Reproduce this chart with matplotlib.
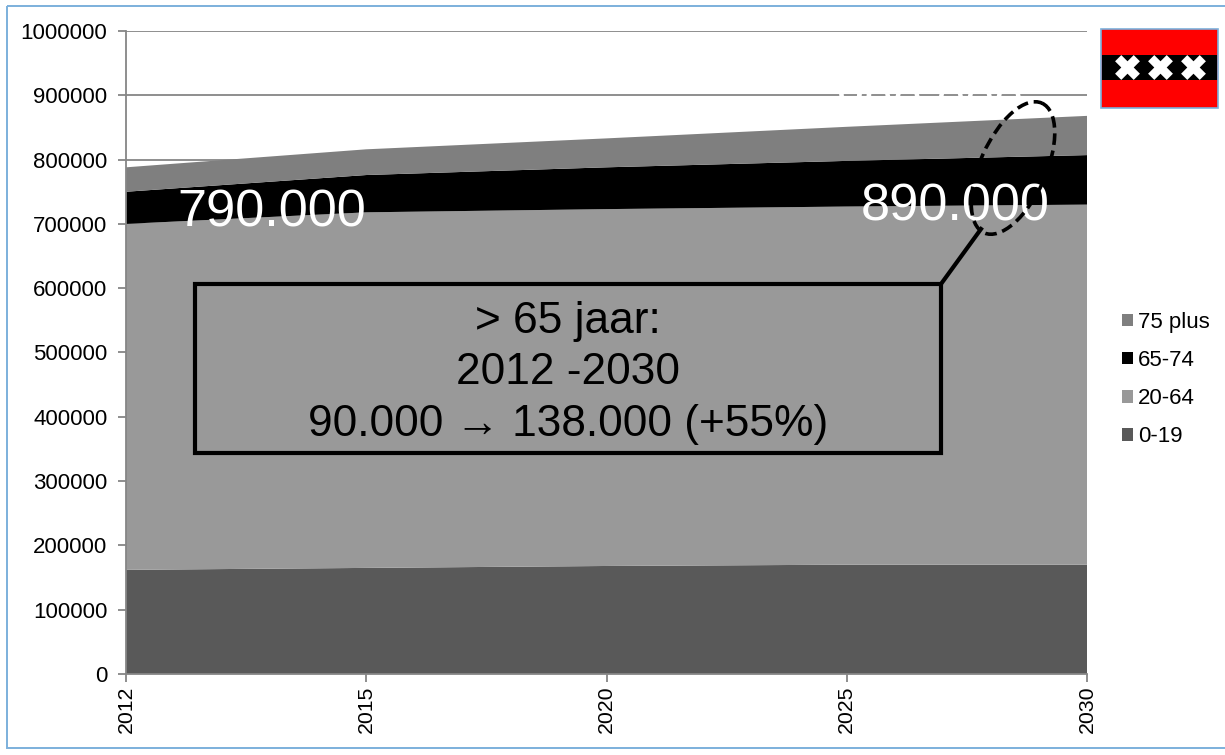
import numpy as np
import matplotlib
matplotlib.use('Agg')
from matplotlib import pyplot as plt
from matplotlib.patches import Rectangle, Ellipse, Patch
from matplotlib.transforms import ScaledTranslation

W, H = 1225, 755

years = ['2012', '2015', '2020', '2025', '2030']
age_0_19 = [162000, 165000, 168000, 170000, 170000]
age_20_64 = [538000, 553000, 555000, 557000, 560000]
age_65_74 = [50000, 58000, 65000, 71000, 77000]
age_75_plus = [38000, 40000, 45000, 53000, 61000]
labels = ['0-19', '20-64', '65-74', '75 plus']
colors = ['#595959', '#999999', '#000000', '#7f7f7f']
yticks = list(range(0, 1000001, 100000))

plt.rcParams['font.family'] = ['Liberation Sans', 'DejaVu Sans']

fig = plt.figure(figsize=(W / 100, H / 100), dpi=100)

# chart axes, placed in pixels
l, r, t, b = 126, 1087, 31, 674
ax = fig.add_axes([l / W, 1 - b / H, (r - l) / W, (b - t) / H])
x = np.arange(len(years))
ax.stackplot(x, age_0_19, age_20_64, age_65_74, age_75_plus,
             colors=colors, linewidth=0, zorder=3)
ax.set_xlim(0, 4)
ax.set_ylim(0, 1000000)
ax.set_xticks(x)
ax.set_xticklabels(years, rotation=90, fontsize=15.3)
# rotated labels sit a bit left of the tick otherwise
for lab in ax.get_xticklabels():
    lab.set_transform(lab.get_transform() + ScaledTranslation(2 / 100, 0, fig.dpi_scale_trans))
ax.set_yticks(yticks)
ax.set_yticklabels([str(v) for v in yticks], fontsize=16)
ax.grid(axis='y', color='#868686', lw=1.3)
ax.set_axisbelow(True)
ax.tick_params(colors='#868686', labelcolor='black', length=5.5, width=1.3)
ax.tick_params(axis='y', pad=8)
ax.tick_params(axis='x', pad=3)
for s in ['top', 'right']:
    ax.spines[s].set_visible(False)
for s in ['left', 'bottom']:
    ax.spines[s].set_color('#868686')
    ax.spines[s].set_linewidth(1.3)
    ax.spines[s].set_zorder(5)

# white text behind the areas, only shows where it cuts the 900000 gridline
ax.text(930 / W, 1 - 108 / H, '890.000', color='white', fontsize=37.5,
        ha='center', va='center', zorder=2, transform=fig.transFigure)

# overlay in image pixels for the annotations
ov = fig.add_axes([0, 0, 1, 1], facecolor='none')
ov.set_xlim(0, W)
ov.set_ylim(H, 0)
ov.axis('off')

ov.add_patch(Rectangle((7, 6), W, 742, fill=False, ec='#7cb0dc', lw=1.4))

ov.text(272, 213, '790.000', color='white', fontsize=37.7, ha='center', va='center', zorder=1)
ov.text(955, 207, '890.000', color='white', fontsize=37.7, ha='center', va='center', zorder=1)

ov.add_patch(Rectangle((195, 284), 746, 169, fill=False, ec='black', lw=3, zorder=4))
ov.plot([941, 981], [284, 229], color='black', lw=3, zorder=4)
ov.add_patch(Ellipse((1013, 168), 66, 142, angle=24, fill=False, ec='black',
                     lw=2.6, ls=(0, (3.2, 1.6)), zorder=4))
ov.text(568, 373, '> 65 jaar:\n2012 -2030\n90.000 \u2192 138.000 (+55%)', fontsize=31.9,
        ha='center', va='center', linespacing=1.33, zorder=4)

# flag
ov.add_patch(Rectangle((1101, 29), 117, 79, fc='#ff0000', ec='#7cb0dc', lw=1.2))
ov.add_patch(Rectangle((1102, 55), 115, 25, fc='black', ec='none'))
ov.scatter([1127, 1160, 1193], [67, 67, 67], marker='X', s=320, c='white', linewidths=0)

handles = [Patch(fc=c, ec='none') for c in colors][::-1]
fig.legend(handles, labels[::-1], loc='center left', bbox_to_anchor=(1122 / W, 1 - 379.5 / H),
           frameon=False, fontsize=16, handlelength=0.5, handleheight=0.5,
           handletextpad=0.23, labelspacing=0.77, borderpad=0, borderaxespad=0)

fig.savefig('out.png', dpi=100)
